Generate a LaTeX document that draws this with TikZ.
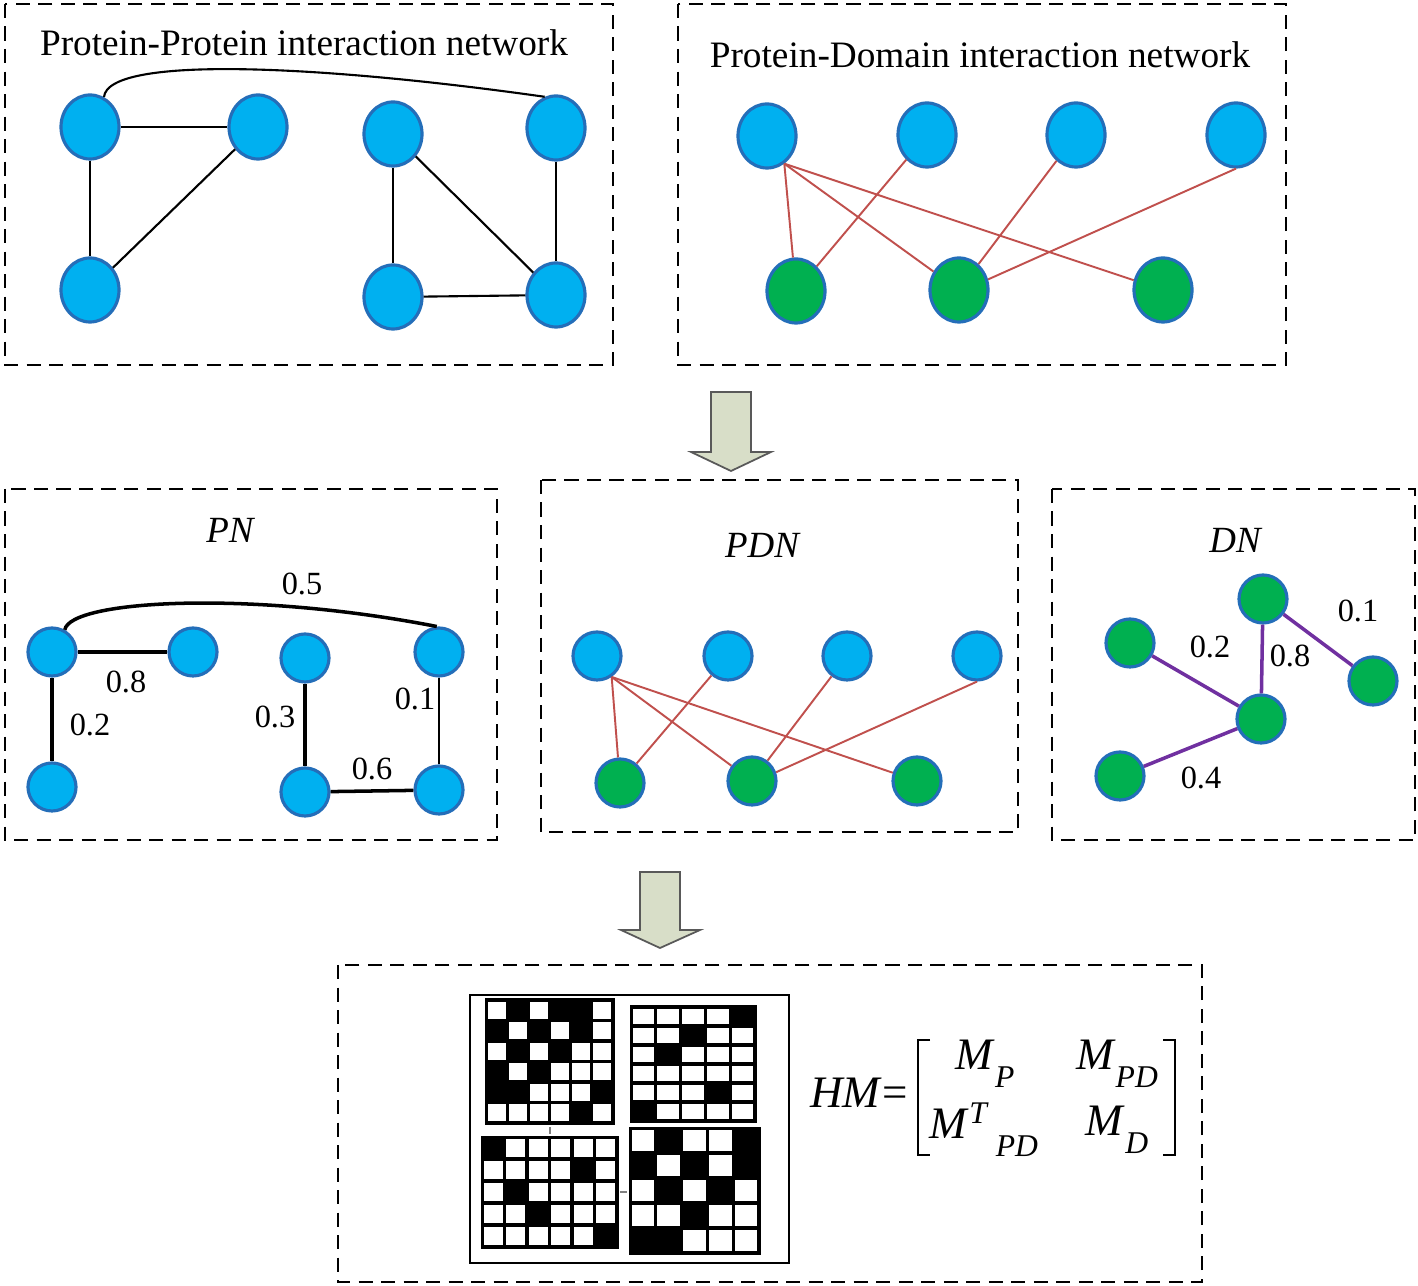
\documentclass[tikz,border=0pt]{standalone}
\usepackage{fontspec}
\setmainfont{Liberation Serif}
\usetikzlibrary{shapes.geometric}

\definecolor{protblue}{RGB}{0,176,240}
\definecolor{rimblue}{RGB}{36,110,185}
\definecolor{domgreen}{RGB}{0,176,80}
\definecolor{linkred}{RGB}{192,80,77}
\definecolor{linkpurple}{RGB}{112,48,160}
\definecolor{flowfill}{RGB}{216,222,200}
\definecolor{flowrim}{RGB}{89,89,89}

% x, y, cell width, cell height, rows of bits
\newcommand{\bitgrid}[5]{%
	\foreach \row [count=\r from 0] in {#5} {
		\foreach \bit [count=\c from 0] in \row {
			\fill[black] ({#1+\c*#3-1.5},{#2+\r*#4-1.5}) rectangle ({#1+(\c+1)*#3+1.5},{#2+(\r+1)*#4+1.5});
			\ifnum\bit=0
				\fill[white] ({#1+\c*#3+1.6},{#2+\r*#4+1.6}) rectangle ({#1+(\c+1)*#3-1.6},{#2+(\r+1)*#4-1.6});
			\fi
		}
	}%
}
% lowered subscript as in the source figure
\newcommand{\lowsub}[1]{\raisebox{-0.4em}{\fontsize{9}{10}\selectfont\textit{#1}}}

\begin{document}
\begin{tikzpicture}
	[x=0.01cm, y=-0.01cm,
	prot/.style={ellipse, draw=rimblue, fill=protblue, line width=0.9pt, minimum width=0.58cm, minimum height=0.64cm, inner sep=0pt},
	dom/.style={prot, fill=domgreen},
	sprot/.style={circle, draw=rimblue, fill=protblue, line width=0.9pt, minimum size=0.48cm, inner sep=0pt},
	sdom/.style={sprot, fill=domgreen},
	frame/.style={line width=0.6pt, dash pattern=on 4pt off 2.4pt},
	ttl/.style={font=\fontsize{10.6}{12}\selectfont},
	nm/.style={font=\fontsize{10.5}{12}\selectfont\itshape},
	wt/.style={font=\fontsize{9.2}{11}\selectfont},
	eq/.style={font=\fontsize{12.8}{14}\selectfont},
	ppi/.style={line width=0.6pt},
	pn/.style={line width=1pt},
	pdi/.style={linkred, line width=0.55pt},
	dn/.style={linkpurple, line width=1pt},
	flow/.style={draw=flowrim, fill=flowfill, line width=0.5pt}]
	\useasboundingbox (0,0) rectangle (1418,1286);

	% protein-protein network
	\draw[frame] (5,4) rectangle (613,365);
	\node[ttl] (ppititle) at (304,43) {Protein-Protein interaction network};
	\node[prot] (ppa) at (90,127) {};
	\node[prot] (ppb) at (258,127) {};
	\node[prot] (ppc) at (90,290) {};
	\node[prot] (ppd) at (393,134) {};
	\node[prot] (ppe) at (556,128) {};
	\node[prot] (ppf) at (393,297) {};
	\node[prot] (ppg) at (556,295) {};
	\draw[ppi] (ppa) -- (ppb);
	\draw[ppi] (ppa) -- (ppc);
	\draw[ppi] (ppb) -- (ppc);
	\draw[ppi] (ppd) -- (ppf);
	\draw[ppi] (ppd) -- (ppg);
	\draw[ppi] (ppe) -- (ppg);
	\draw[ppi] (ppf) -- (ppg);
	\draw[ppi] (ppa.65) .. controls (108,55) and (320,65) .. (ppe.110);

	% protein-domain network
	\draw[frame] (678,4) rectangle (1286,365);
	\node[ttl] (pdititle) at (980,55) {Protein-Domain interaction network};
	\node[prot] (pa1) at (767,136) {};
	\node[prot] (pa2) at (927,135) {};
	\node[prot] (pa3) at (1076,135) {};
	\node[prot] (pa4) at (1236,135) {};
	\node[dom] (pd1) at (796,291) {};
	\node[dom] (pd2) at (959,290) {};
	\node[dom] (pd3) at (1163,290) {};
	\draw[pdi] (pa1.-58) -- (pd1);
	\draw[pdi] (pa1.-58) -- (pd2);
	\draw[pdi] (pa1.-58) -- (pd3);
	\draw[pdi] (pa2) -- (pd1);
	\draw[pdi] (pa3) -- (pd2);
	\draw[pdi] (pa4.south) -- (pd2.20);

	\draw[flow] (711,392) -- (751,392) -- (751,452) -- (771,452) -- (731,471) -- (691,452) -- (711,452) -- cycle;

	% PN
	\draw[frame] (5,489) rectangle (497,840);
	\node[nm] (pntitle) at (230,530) {PN};
	\node[sprot] (pn1) at (52,652) {};
	\node[sprot] (pn2) at (193,652) {};
	\node[sprot] (pn3) at (305,658) {};
	\node[sprot] (pn4) at (439,652) {};
	\node[sprot] (pn5) at (52,787) {};
	\node[sprot] (pn6) at (305,792) {};
	\node[sprot] (pn7) at (439,790) {};
	\draw[pn] (pn1) -- (pn2);
	\draw[pn] (pn1) -- (pn5);
	\draw[pn] (pn3) -- (pn6);
	\draw[pn] (pn6) -- (pn7);
	\draw[ppi] (pn4) -- (pn7);
	\draw[pn] (pn1.60) .. controls (70,600) and (250,590) .. (pn4.95);
	\node[wt] (w05) at (302,584) {0.5};
	\node[wt] (w08) at (126,682) {0.8};
	\node[wt] (w02) at (90,725) {0.2};
	\node[wt] (w03) at (275,717) {0.3};
	\node[wt] (w01) at (415,699) {0.1};
	\node[wt] (w06) at (372,769) {0.6};

	% PDN
	\draw[frame] (541,480) rectangle (1018,832);
	\node[nm] (pdntitle) at (762,545) {PDN};
	\node[sprot] (q1) at (597,656) {};
	\node[sprot] (q2) at (728,656) {};
	\node[sprot] (q3) at (847,656) {};
	\node[sprot] (q4) at (977,656) {};
	\node[sdom] (qd1) at (620,783) {};
	\node[sdom] (qd2) at (752,781) {};
	\node[sdom] (qd3) at (917,781) {};
	\draw[pdi] (q1.-55) -- (qd1);
	\draw[pdi] (q1.-55) -- (qd2);
	\draw[pdi] (q1.-55) -- (qd3);
	\draw[pdi] (q2) -- (qd1);
	\draw[pdi] (q3) -- (qd2);
	\draw[pdi] (q4.south) -- (qd2.20);

	% DN
	\draw[frame] (1052,489) rectangle (1415,840);
	\node[nm] (dntitle) at (1235,540) {DN};
	\node[sdom] (g1) at (1263,599) {};
	\node[sdom] (g2) at (1130,643) {};
	\node[sdom] (g3) at (1373,681) {};
	\node[sdom] (g4) at (1261,719) {};
	\node[sdom] (g5) at (1120,776) {};
	\draw[dn] (g2) -- (g4);
	\draw[dn] (g1) -- (g4);
	\draw[dn] (g1) -- (g3);
	\draw[dn] (g5) -- (g4);
	\node[wt] (v02) at (1210,647) {0.2};
	\node[wt] (v08) at (1290,656) {0.8};
	\node[wt] (v01) at (1358,611) {0.1};
	\node[wt] (v04) at (1201,778) {0.4};

	\draw[flow] (640,872) -- (680,872) -- (680,930) -- (700,930) -- (660,948) -- (621,930) -- (640,930) -- cycle;

	% heterogeneous matrix
	\draw[frame] (338,965) rectangle (1202,1282);
	\draw[line width=0.5pt] (470,995) rectangle (789,1263);
	\bitgrid{486}{1000}{21.17}{20.5}{{0,1,0,1,1,0},{1,0,1,0,1,0},{0,1,0,1,0,0},{1,0,1,0,0,0},{1,1,0,0,0,1},{0,0,0,0,1,0}}
	\bitgrid{631}{1007}{24.8}{19}{{0,0,0,0,1},{0,0,1,0,0},{0,1,0,0,0},{0,0,0,0,0},{0,0,0,1,0},{1,0,0,0,0}}
	\bitgrid{482}{1137}{22.5}{22}{{1,0,0,0,0,0},{0,0,0,0,1,0},{0,1,0,0,0,0},{0,0,1,0,0,0},{0,0,0,0,0,1}}
	\bitgrid{630}{1128}{25.8}{25}{{0,1,0,0,1},{1,0,1,0,1},{0,1,0,1,0},{0,0,1,0,0},{1,1,0,0,0}}
	\draw[gray, line width=0.6pt] (550,1127) -- (550,1134);
	\draw[gray, line width=0.6pt] (620,1192) -- (627,1192);

	\node[eq] (hm) at (859,1093) {\textit{HM}=};
	\node[eq] (mp) at (985,1064) {\textit{M}\lowsub{P}};
	\node[eq] (mpd) at (1117,1064) {\textit{M}\lowsub{PD}};
	\node[eq] (mtpd) at (984,1130) {\textit{M}\textsuperscript{\textit{T}}\lowsub{\,PD}};
	\node[eq] (md) at (1117,1130) {\textit{M}\lowsub{D}};
	\draw[line width=0.8pt] (930,1040) -- (918,1040) -- (918,1155) -- (930,1155);
	\draw[line width=0.8pt] (1163,1040) -- (1175,1040) -- (1175,1155) -- (1163,1155);
\end{tikzpicture}
\end{document}
